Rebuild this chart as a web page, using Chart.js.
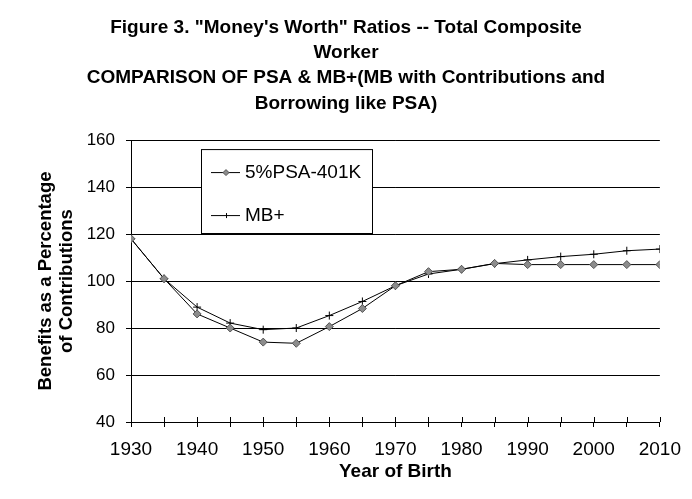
<!DOCTYPE html>
<html>
<head>
<meta charset="utf-8">
<script src="https://cdn.jsdelivr.net/npm/chart.js@4"></script>
<style>
  html, body { margin: 0; padding: 0; background: #fff; }
  #wrap { width: 692px; height: 499px; }
</style>
</head>
<body>
<div id="wrap"><canvas id="mw"></canvas></div>
<script>
// data
const years = [1930, 1935, 1940, 1945, 1950, 1955, 1960, 1965, 1970, 1975, 1980, 1985, 1990, 1995, 2000, 2005, 2010];
const psa401k = [118, 101, 86, 80, 74, 73.5, 80.6, 88.3, 98, 104, 105, 107.5, 107, 107, 107, 107, 107];
const mbPlus = [118, 101, 88.9, 82.1, 79.3, 80, 85.3, 91.3, 98, 103, 105, 107.4, 109, 110.4, 111.4, 112.9, 113.6];
const yTicks = [40, 60, 80, 100, 120, 140, 160];
const titleLines = [
  'Figure 3. "Money\'s Worth" Ratios -- Total Composite',
  'Worker',
  'COMPARISON OF PSA & MB+(MB with Contributions and',
  'Borrowing like PSA)'
];

const FONT = '"Liberation Sans", Arial, sans-serif';

// legend drawn inside the plot, like the old excel box
const boxLegend = {
  id: 'boxLegend',
  afterDraw(chart) {
    const ctx = chart.ctx;
    const a = chart.chartArea;
    const x = a.left + 70, y = a.top + 9, w = 171, h = 84;
    ctx.save();
    ctx.fillStyle = '#fff';
    ctx.fillRect(x, y, w, h);
    ctx.strokeStyle = '#000';
    ctx.lineWidth = 1;
    ctx.strokeRect(x + 0.5, y + 0.5, w, h);
    ctx.fillStyle = '#000';
    ctx.fillRect(x + 1, y + h, w, 1.5);
    ctx.font = '19px ' + FONT;
    ctx.textBaseline = 'middle';
    chart.data.datasets.forEach((ds, i) => {
      const ry = y + 23 + i * 43;
      ctx.strokeStyle = '#000';
      ctx.lineWidth = 1;
      ctx.beginPath();
      ctx.moveTo(x + 10, ry + 0.5);
      ctx.lineTo(x + 39, ry + 0.5);
      ctx.stroke();
      if (ds.pointStyle === 'rectRot') {
        ctx.fillStyle = ds.pointBackgroundColor;
        ctx.strokeStyle = ds.pointBorderColor;
        ctx.beginPath();
        ctx.moveTo(x + 25, ry - 2.5); ctx.lineTo(x + 28, ry + 0.5);
        ctx.lineTo(x + 25, ry + 3.5); ctx.lineTo(x + 22, ry + 0.5);
        ctx.closePath(); ctx.fill(); ctx.stroke();
      } else {
        ctx.beginPath();
        ctx.moveTo(x + 25.5, ry - 2); ctx.lineTo(x + 25.5, ry + 3);
        ctx.stroke();
      }
      ctx.fillStyle = '#000';
      ctx.fillText(ds.label, x + 44, ry + 1);
    });
    ctx.restore();
  }
};

// the x ticks cross the axis, draw the upper half
const crossTicks = {
  id: 'crossTicks',
  afterDatasetsDraw(chart) {
    const ctx = chart.ctx;
    const xs = chart.scales.x;
    const yb = chart.chartArea.bottom;
    ctx.save();
    ctx.strokeStyle = '#000';
    ctx.lineWidth = 1;
    ctx.beginPath();
    years.forEach(v => {
      const px = Math.round(xs.getPixelForValue(v)) + 0.5;
      ctx.moveTo(px, yb - 5);
      ctx.lineTo(px, yb);
    });
    ctx.stroke();
    ctx.restore();
  }
};

new Chart(document.getElementById('mw'), {
  type: 'line',
  data: {
    datasets: [{
      label: '5%PSA-401K',
      data: years.map((yr, i) => ({ x: yr, y: psa401k[i] })),
      borderColor: '#000',
      borderWidth: 1,
      pointStyle: 'rectRot',
      pointRadius: 4,
      pointBackgroundColor: '#8c8c8c',
      pointBorderColor: '#555',
      pointBorderWidth: 1,
      tension: 0
    }, {
      label: 'MB+',
      data: years.map((yr, i) => ({ x: yr, y: mbPlus[i] })),
      borderColor: '#000',
      borderWidth: 1,
      pointStyle: 'cross',
      pointRadius: 4,
      pointBackgroundColor: '#000',
      pointBorderColor: '#000',
      pointBorderWidth: 1,
      tension: 0
    }]
  },
  options: {
    responsive: true,
    maintainAspectRatio: false,
    animation: false,
    layout: { padding: 0 },
    plugins: {
      legend: { display: false },
      tooltip: { enabled: false },
      title: {
        display: true,
        text: titleLines,
        color: '#000',
        font: { family: FONT, size: 19, weight: 'bold', lineHeight: 1.33 },
        padding: { top: 15, bottom: 24 }
      }
    },
    scales: {
      x: {
        type: 'linear',
        min: 1930,
        max: 2010,
        afterFit: s => { s.height = 77; },
        afterBuildTicks: s => { s.ticks = years.map(v => ({ value: v })); },
        ticks: {
          color: '#000',
          font: { family: FONT, size: 19 },
          padding: 11,
          maxRotation: 0,
          autoSkip: false,
          callback: v => (v % 10 === 0 ? String(v) : '')
        },
        grid: { drawOnChartArea: false, drawTicks: true, tickLength: 5, color: '#000' },
        border: { color: '#000', width: 1 },
        title: {
          display: true,
          text: 'Year of Birth',
          color: '#000',
          font: { family: FONT, size: 19, weight: 'bold' },
          padding: { top: 0, bottom: 16 }
        }
      },
      y: {
        min: 40,
        max: 160,
        afterFit: s => { s.width = 131; },
        afterBuildTicks: s => { s.ticks = yTicks.map(v => ({ value: v })); },
        ticks: {
          color: '#000',
          font: { family: FONT, size: 17 },
          padding: 11
        },
        grid: { color: '#000', lineWidth: 1, tickLength: 5 },
        border: { color: '#000', width: 1 },
        title: {
          display: true,
          text: ['Benefits as a Percentage', 'of Contributions'],
          color: '#000',
          font: { family: FONT, size: 18.5, weight: 'bold', lineHeight: 1.1 },
          padding: { top: 36, bottom: 0 }
        }
      },
      // empty right-hand margin so the title stays centred on the page
      yRight: {
        position: 'right',
        min: 40,
        max: 160,
        afterFit: s => { s.width = 30; },
        ticks: { display: false },
        grid: { display: false, drawTicks: false },
        border: { display: false }
      }
    }
  },
  plugins: [boxLegend, crossTicks]
});
</script>
</body>
</html>
